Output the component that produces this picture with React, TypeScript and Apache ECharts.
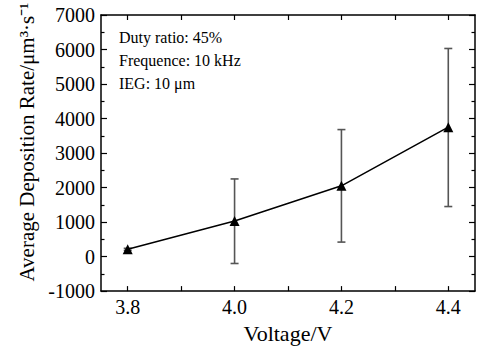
import React, { useEffect, useRef } from "react";
import * as echarts from "echarts";

const voltages = [3.8, 4.0, 4.2, 4.4];
const rates = [210, 1030, 2050, 3750];
const errLow = [180, -200, 420, 1450];
const errHigh = [240, 2250, 3680, 6030];
const xTickValues = [3.8, 3.9, 4.0, 4.1, 4.2, 4.3, 4.4];
const xLabelValues = [3.8, 4.0, 4.2, 4.4];
const notes = ["Duty ratio: 45%", "Frequence: 10 kHz", "IEG: 10 μm"];

const FONT = "Liberation Serif";

export default function App() {
  const ref = useRef<HTMLDivElement>(null);
  useEffect(() => {
    if (!ref.current) return;
    const chart = echarts.init(ref.current, null, { renderer: "svg" });
    const axisLine = { show: true, onZero: false, lineStyle: { color: "#000", width: 1.5 } };
    const tickStyle = { color: "#000", width: 1.2 };
    const errData = voltages.map((v, i) => [v, errLow[i], errHigh[i]]);
    chart.setOption({
      animation: false,
      backgroundColor: "#fff",
      textStyle: { fontFamily: FONT },
      grid: { left: 101, top: 15, right: 2, bottom: 56 },
      xAxis: [
        {
          type: "value",
          min: 3.75,
          max: 4.45,
          axisLine,
          axisTick: { show: true, inside: true, length: 5, customValues: xTickValues, lineStyle: tickStyle },
          axisLabel: {
            customValues: xLabelValues,
            formatter: (v: number) => v.toFixed(1),
            fontFamily: FONT,
            fontSize: 20,
            color: "#000",
            margin: 6,
          },
          splitLine: { show: false },
          name: "Voltage/V",
          nameLocation: "middle",
          nameGap: 30,
          nameTextStyle: { fontFamily: FONT, fontSize: 22, color: "#000" },
        },
        {
          type: "value",
          position: "top",
          min: 3.75,
          max: 4.45,
          axisLine,
          axisTick: { show: true, inside: true, length: 5, customValues: xTickValues, lineStyle: tickStyle },
          axisLabel: { show: false },
          splitLine: { show: false },
        },
      ],
      yAxis: [
        {
          type: "value",
          min: -1000,
          max: 7000,
          interval: 1000,
          axisLine,
          axisTick: { show: true, inside: true, length: 6, lineStyle: tickStyle },
          minorTick: { show: true, splitNumber: 2, length: 3.5, lineStyle: tickStyle },
          axisLabel: {
            fontFamily: FONT,
            fontSize: 20,
            color: "#000",
            margin: 6,
            formatter: (v: number) => String(v),
          },
          splitLine: { show: false },
          name: "Average Deposition Rate/μm³·s⁻¹",
          nameLocation: "middle",
          nameGap: 64,
          nameTextStyle: { fontFamily: FONT, fontSize: 21, color: "#000", padding: [0, 0, 0, 22] },
        },
        {
          type: "value",
          position: "right",
          min: -1000,
          max: 7000,
          interval: 1000,
          axisLine,
          axisTick: { show: true, inside: true, length: 6, lineStyle: tickStyle },
          minorTick: { show: true, splitNumber: 2, length: 3.5, lineStyle: tickStyle },
          axisLabel: { show: false },
          splitLine: { show: false },
        },
      ],
      graphic: notes.map((t, i) => ({
        type: "text",
        left: 119,
        top: 29 + i * 23,
        style: { text: t, fontFamily: FONT, fontSize: 16, fill: "#000" },
      })),
      series: [
        {
          type: "custom",
          xAxisIndex: 0,
          yAxisIndex: 0,
          data: errData,
          z: 1,
          renderItem: (params: any, api: any) => {
            const x = api.value(0);
            const lo = api.coord([x, api.value(1)]);
            const hi = api.coord([x, api.value(2)]);
            const w = 4;
            const style = { stroke: "#555", lineWidth: 1.6 };
            return {
              type: "group",
              children: [
                { type: "line", shape: { x1: lo[0], y1: lo[1], x2: hi[0], y2: hi[1] }, style },
                { type: "line", shape: { x1: lo[0] - w, y1: lo[1], x2: lo[0] + w, y2: lo[1] }, style },
                { type: "line", shape: { x1: hi[0] - w, y1: hi[1], x2: hi[0] + w, y2: hi[1] }, style },
              ],
            };
          },
        },
        {
          type: "line",
          xAxisIndex: 0,
          yAxisIndex: 0,
          data: voltages.map((v, i) => [v, rates[i]]),
          symbol: "triangle",
          symbolSize: 10,
          lineStyle: { color: "#000", width: 1.5 },
          itemStyle: { color: "#000" },
          z: 3,
        },
      ],
    });
    return () => chart.dispose();
  }, []);
  return <div ref={ref} style={{ width: 477, height: 349, position: "absolute", left: 0, top: 0 }} />;
}
